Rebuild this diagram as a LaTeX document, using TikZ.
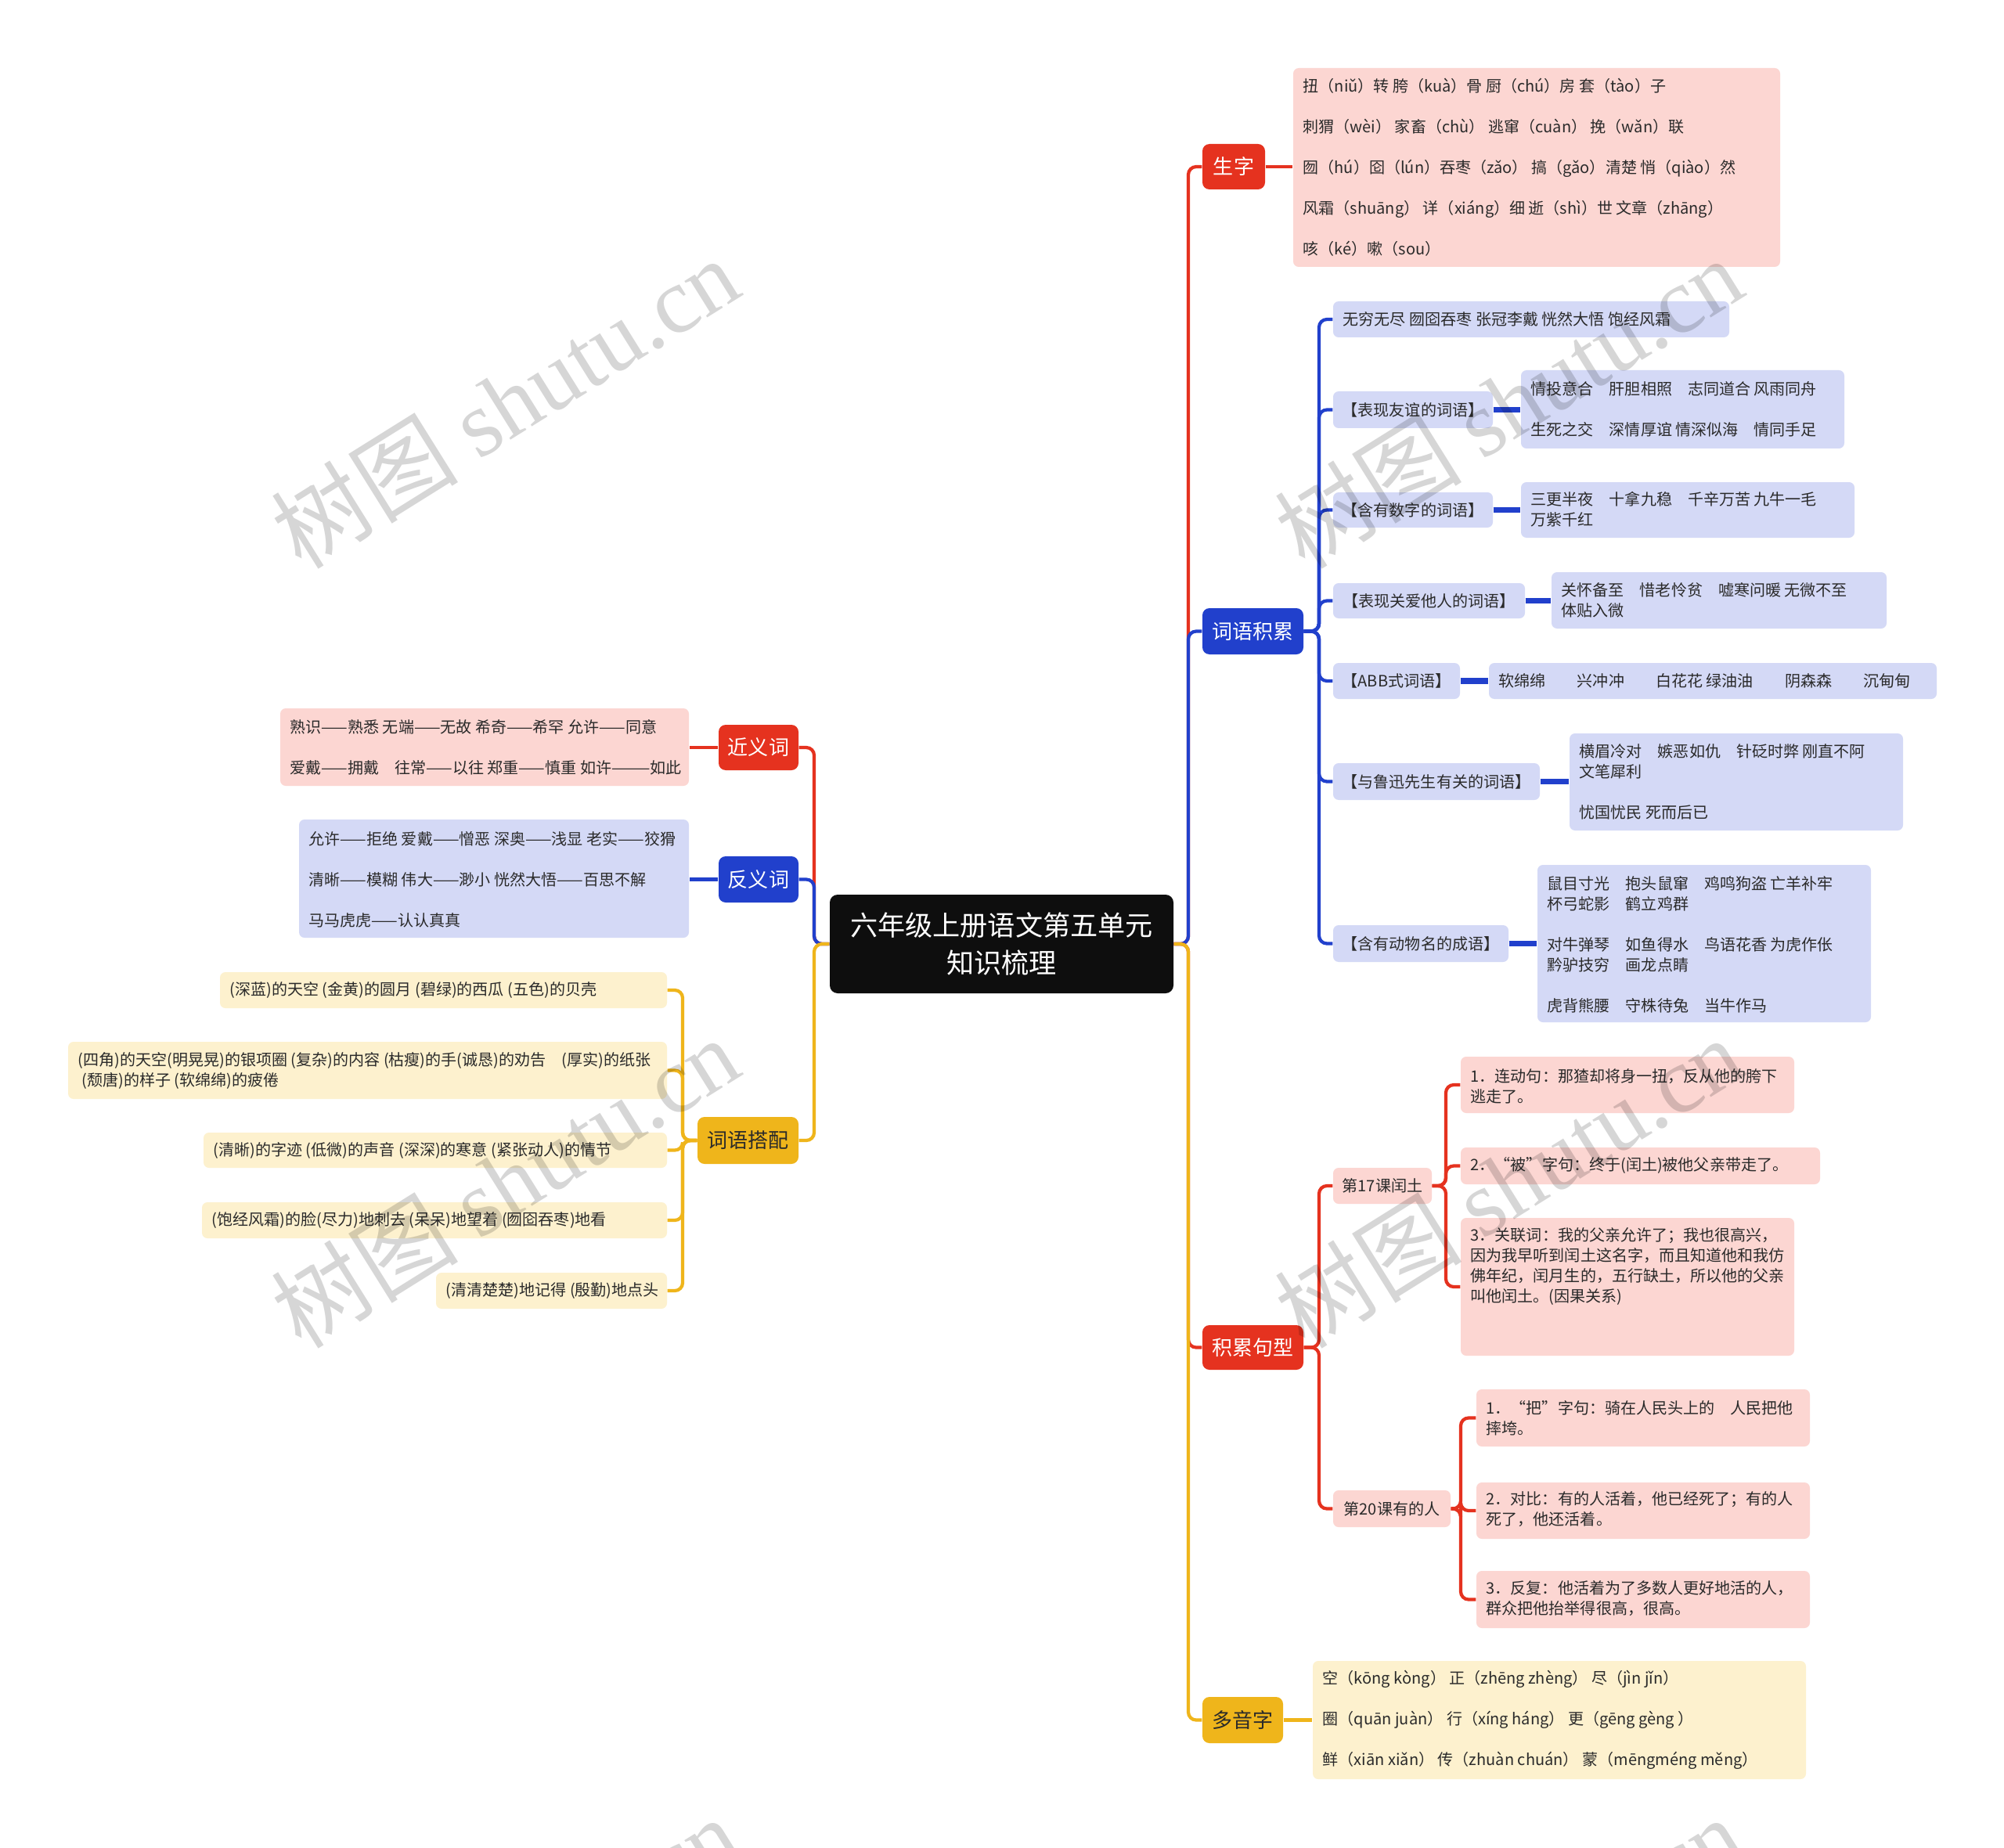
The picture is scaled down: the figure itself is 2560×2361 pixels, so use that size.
\documentclass[tikz,border=0pt]{standalone}
\usepackage{fontspec}
\setmainfont{Noto Sans CJK SC}
\newfontfamily\wmfont{Liberation Serif}
\usetikzlibrary{fit}

\definecolor{cred}{HTML}{E5321F}
\definecolor{cblue}{HTML}{2140CC}
\definecolor{cyel}{HTML}{EFB51B}
\definecolor{cpink}{HTML}{FCD6D2}
\definecolor{cpale}{HTML}{D4D9F6}
\definecolor{ccream}{HTML}{FDF1CE}
\definecolor{ctext}{HTML}{2A2A2A}
\definecolor{cdark}{HTML}{0E0E0E}

\tikzset{
  lf/.style={font=\fontsize{5.7pt}{7.4pt}\selectfont, text=ctext, inner sep=0pt, align=left},
  bx/.style={inner sep=0pt, rounded corners=0.07cm},
  pinkbox/.style={bx, fill=cpink},
  palebox/.style={bx, fill=cpale},
  creambox/.style={bx, fill=ccream},
  brbox/.style={inner sep=0pt, rounded corners=0.09cm},
  brtxt/.style={inner sep=0pt, font=\fontsize{7.4pt}{9pt}\selectfont},
  subtxt/.style={inner sep=0pt, font=\fontsize{5.7pt}{7.4pt}\selectfont, text=ctext},
  conn/.style={line width=1.2pt, rounded corners=0.1cm},
  rl/.style={conn, draw=cred},
  bl/.style={conn, draw=cblue},
  yl/.style={conn, draw=cyel},
  fat/.style={line width=2pt},
  wm/.style={rotate=32, text=black, text opacity=0.16, inner sep=0pt,
    font=\fontsize{34pt}{38pt}\selectfont}
}

% leaf: name, x1, y1, x2, y2, box style, text centre y, text
\newcommand\leaf[8]{%
  \node[#6, fit={(#2,#3) (#4,#5)}] (#1) {};
  \node[lf, anchor=west] (#1t) at ({#2+12},#7) {#8};
}
% labelled box: name, x1, y1, x2, y2, box style, text style, text
\newcommand\lbl[8]{%
  \node[#6, fit={(#2,#3) (#4,#5)}] (#1) {};
  \node[#7] (#1t) at (#1.center) {#8};
}

\begin{document}
\begin{tikzpicture}[x=0.01cm, y=-0.01cm]
\fill[white] (0,0) rectangle (2560,2361);
\useasboundingbox (0,0) rectangle (2560,2361);

% ---------- central ----------
\node[fill=cdark, rounded corners=0.1cm, inner sep=0pt, fit={(1060,1143) (1499,1269)}] (C) {};
\node[text=white, align=center, inner sep=0pt, font=\fontsize{10pt}{13.4pt}\selectfont] (Ct) at (C.center) {六年级上册语文第五单元\\知识梳理};

% ---------- right branches ----------
\lbl{b1}{1536}{184}{1616}{242}{brbox, fill=cred}{brtxt, text=white}{生字}
\lbl{b2}{1536}{777}{1665}{836}{brbox, fill=cblue}{brtxt, text=white}{词语积累}
\lbl{b3}{1536}{1693}{1665}{1750}{brbox, fill=cred}{brtxt, text=white}{积累句型}
\lbl{b4}{1536}{2168}{1639}{2227}{brbox, fill=cyel}{brtxt, text=ctext}{多音字}

% ---------- left branches ----------
\lbl{nj}{918}{926}{1020}{984}{brbox, fill=cred}{brtxt, text=white}{近义词}
\lbl{nf}{918}{1094}{1020}{1153}{brbox, fill=cblue}{brtxt, text=white}{反义词}
\lbl{nd}{891}{1427}{1020}{1487}{brbox, fill=cyel}{brtxt, text=ctext}{词语搭配}

% ---------- 生字 ----------
\leaf{L0}{1652}{87}{2274}{341}{pinkbox}{214}{扭（niǔ）转 胯（kuà）骨 厨（chú）房 套（tào）子\\[7.4pt]刺猬（wèi） 家畜（chù） 逃窜（cuàn） 挽（wǎn）联\\[7.4pt]囫（hú）囵（lún）吞枣（zǎo） 搞（gǎo）清楚 悄（qiào）然\\[7.4pt]风霜（shuāng） 详（xiáng）细 逝（shì）世 文章（zhāng）\\[7.4pt]咳（ké）嗽（sou）}

% ---------- 词语积累 ----------
\leaf{W1}{1703}{385}{2209}{431}{palebox}{408}{无穷无尽 囫囵吞枣 张冠李戴 恍然大悟 饱经风霜}
\lbl{W2n}{1703}{500}{1907}{547}{palebox}{subtxt}{【表现友谊的词语】}
\leaf{W2}{1943}{473}{2356}{573}{palebox}{522.5}{情投意合　肝胆相照　志同道合 风雨同舟\\[7.4pt]生死之交　深情厚谊 情深似海　情同手足}
\lbl{W3n}{1703}{629}{1907}{674}{palebox}{subtxt}{【含有数字的词语】}
\leaf{W3}{1943}{616}{2369}{687}{palebox}{651}{三更半夜　十拿九稳　千辛万苦 九牛一毛\\万紫千红}
\lbl{W4n}{1703}{745}{1948}{790}{palebox}{subtxt}{【表现关爱他人的词语】}
\leaf{W4}{1982}{731}{2410}{803}{palebox}{767}{关怀备至　惜老怜贫　嘘寒问暖 无微不至\\体贴入微}
\lbl{W5n}{1703}{847}{1865}{893}{palebox}{subtxt}{【ABB式词语】}
\leaf{W5}{1902}{847}{2474}{893}{palebox}{870}{软绵绵　　兴冲冲　　白花花 绿油油　　阴森森　　沉甸甸}
\lbl{W6n}{1703}{975}{1967}{1022}{palebox}{subtxt}{【与鲁迅先生有关的词语】}
\leaf{W6}{2005}{937}{2431}{1061}{palebox}{999}{横眉冷对　嫉恶如仇　针砭时弊 刚直不阿\\文笔犀利\\[7.4pt]忧国忧民 死而后已}
\lbl{W7n}{1703}{1182}{1927}{1229}{palebox}{subtxt}{【含有动物名的成语】}
\leaf{W7}{1964}{1105}{2390}{1306}{palebox}{1206.5}{鼠目寸光　抱头鼠窜　鸡鸣狗盗 亡羊补牢\\杯弓蛇影　鹤立鸡群\\[7.4pt]对牛弹琴　如鱼得水　鸟语花香 为虎作伥\\黔驴技穷　画龙点睛\\[7.4pt]虎背熊腰　守株待兔　当牛作马}

% ---------- 积累句型 ----------
\lbl{S1n}{1703}{1492}{1829}{1538}{pinkbox}{subtxt}{第17课闰土}
\leaf{S1a}{1866}{1350}{2292}{1422}{pinkbox}{1388}{1．连动句：那猹却将身一扭，反从他的胯下\\逃走了。}
\leaf{S1b}{1866}{1466}{2325}{1513}{pinkbox}{1489}{2．“被”字句：终于(闰土)被他父亲带走了。}
\leaf{S1c}{1866}{1556}{2292}{1732}{pinkbox}{1618}{3．关联词：我的父亲允许了；我也很高兴，\\因为我早听到闰土这名字，而且知道他和我仿\\佛年纪，闰月生的，五行缺土，所以他的父亲\\叫他闰土。(因果关系)}
\lbl{S2n}{1703}{1904}{1853}{1951}{pinkbox}{subtxt}{第20课有的人}
\leaf{S2a}{1886}{1775}{2312}{1848}{pinkbox}{1812}{1．“把”字句：骑在人民头上的　人民把他\\摔垮。}
\leaf{S2b}{1886}{1894}{2312}{1966}{pinkbox}{1928}{2．对比：有的人活着，他已经死了；有的人\\死了，他还活着。}
\leaf{S2c}{1886}{2007}{2312}{2080}{pinkbox}{2042.5}{3．反复：他活着为了多数人更好地活的人，\\群众把他抬举得很高，很高。}

% ---------- 多音字 ----------
\leaf{D}{1677}{2122}{2307}{2273}{creambox}{2197.5}{空（kōng kòng） 正（zhēng zhèng） 尽（jìn jǐn）\\[7.4pt]圈（quān juàn） 行（xíng háng） 更（gēng gèng ）\\[7.4pt]鲜（xiān xiǎn） 传（zhuàn chuán） 蒙（mēngméng měng）}

% ---------- left leaves ----------
\leaf{J}{358}{905}{880}{1004}{pinkbox}{955}{熟识——熟悉 无端——无故 希奇——希罕 允许——同意\\[7.4pt]爱戴——拥戴　往常——以往 郑重——慎重 如许———如此}
\leaf{F}{382}{1047}{880}{1198}{palebox}{1123.5}{允许——拒绝 爱戴——憎恶 深奥——浅显 老实——狡猾\\[7.4pt]清晰——模糊 伟大——渺小 恍然大悟——百思不解\\[7.4pt]马马虎虎——认认真真}
\leaf{P1}{281}{1242}{852}{1288}{creambox}{1265}{(深蓝)的天空 (金黄)的圆月 (碧绿)的西瓜 (五色)的贝壳}
\leaf{P2}{87}{1331}{852}{1404}{creambox}{1367.5}{(四角)的天空(明晃晃)的银项圈 (复杂)的内容 (枯瘦)的手(诚恳)的劝告　(厚实)的纸张\\\hspace*{0.25em}(颓唐)的样子 (软绵绵)的疲倦}
\leaf{P3}{260}{1447}{852}{1492}{creambox}{1469.5}{(清晰)的字迹 (低微)的声音 (深深)的寒意 (紧张动人)的情节}
\leaf{P4}{258}{1536}{852}{1582}{creambox}{1559}{(饱经风霜)的脸(尽力)地刺去 (呆呆)地望着 (囫囵吞枣)地看}
\leaf{P5}{557}{1626}{852}{1672}{creambox}{1649}{(清清楚楚)地记得 (殷勤)地点头}

% ---------- trunk coordinates ----------
\coordinate (RT) at (1518,1206);
\coordinate (LT) at (1040,1206);
\coordinate (T2) at (1685,806);
\coordinate (T3) at (1685,1721);
\coordinate (T31) at (1847,1515);
\coordinate (T32) at (1866,1927);
\coordinate (TL3) at (872,1456);

% ---------- connectors: right ----------
\draw[rl] (C.east) -| (RT |- b1.west) -- (b1.west);
\draw[bl] (C.east) -| (RT |- b2.west) -- (b2.west);
\draw[rl] (C.east) -| (RT |- b3.west) -- (b3.west);
\draw[yl] (C.east) -| (RT |- b4.west) -- (b4.west);

\draw[rl] (b1.east) -- (L0.west |- b1.east);
\draw[yl] (b4.east) -- (D.west |- b4.east);

\foreach \n in {W1,W2n,W3n,W4n,W5n,W6n,W7n}
  \draw[bl] (b2.east) -| (T2 |- \n.west) -- (\n.west);
\foreach \n in {W2,W3,W4,W5,W6,W7}
  \draw[bl, fat] (\n n.east) -- (\n.west |- \n n.east);

\foreach \n in {S1n,S2n}
  \draw[rl] (b3.east) -| (T3 |- \n.west) -- (\n.west);
\foreach \n in {S1a,S1b,S1c}
  \draw[rl] (S1n.east) -| (T31 |- \n.west) -- (\n.west);
\foreach \n in {S2a,S2b,S2c}
  \draw[rl] (S2n.east) -| (T32 |- \n.west) -- (\n.west);

% ---------- connectors: left ----------
\draw[rl] (C.west) -| (LT |- nj.east) -- (nj.east);
\draw[bl] (C.west) -| (LT |- nf.east) -- (nf.east);
\draw[yl] (C.west) -| (LT |- nd.east) -- (nd.east);
\draw[rl] (nj.west) -- (J.east |- nj.west);
\draw[bl] (nf.west) -- (F.east |- nf.west);
\foreach \n in {P1,P2,P3,P4,P5}
  \draw[yl] (nd.west) -| (TL3 |- \n.east) -- (\n.east);

% ---------- watermarks ----------
\foreach \x/\y [count=\i] in {645/514, 1927/514, 645/1510, 1927/1510, 645/2506, 1927/2506}
  \node[wm] (wm\i) at (\x,\y) {树图 {\wmfont shutu.cn}};
\end{tikzpicture}
\end{document}
